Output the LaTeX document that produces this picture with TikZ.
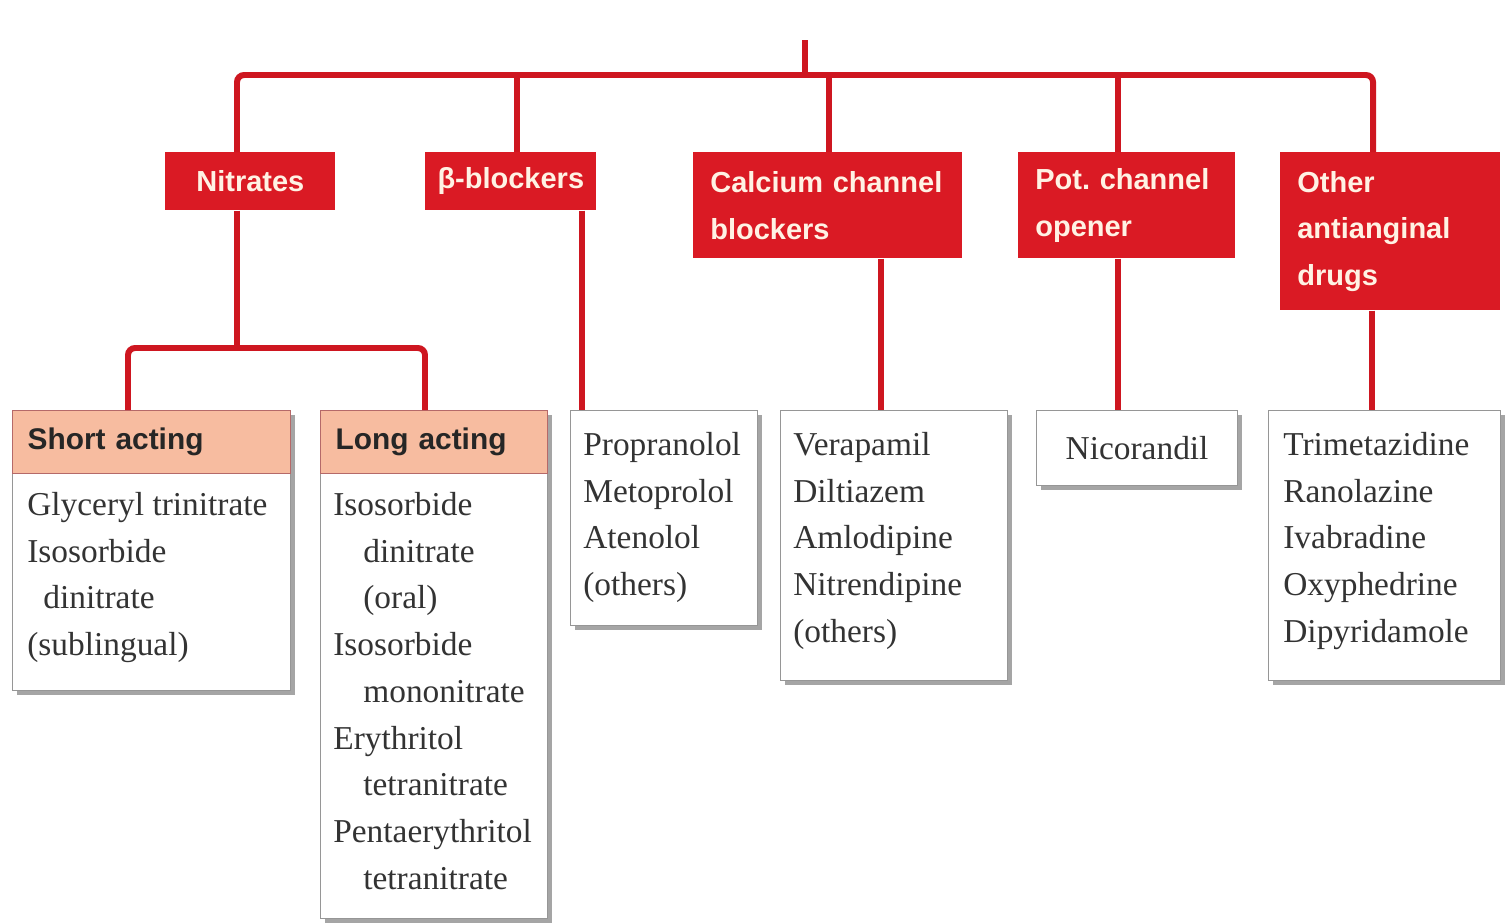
\documentclass[tikz,border=0pt]{standalone}
\usepackage{fontspec}
\setmainfont{Liberation Serif}
\newfontfamily\hdfont{Liberation Sans}
\usetikzlibrary{calc,shadows}
\definecolor{dred}{RGB}{218,26,36}
\definecolor{lred}{RGB}{206,22,32}
\definecolor{salmon}{RGB}{247,188,160}
\definecolor{cream}{RGB}{255,242,228}
\definecolor{boxline}{RGB}{150,150,150}
\newcommand\fl{\rule{0pt}{0.6cm}}
\newcommand\ind{\hspace*{0.6cm}}
\begin{document}
\begin{tikzpicture}[x=0.02cm,y=-0.02cm,
 catbox/.style={fill=dred, draw=none, text=cream, font=\hdfont\bfseries\fontsize{16.5}{26.6}\selectfont, inner xsep=0.34cm, inner ysep=0pt, anchor=north west},
 conn/.style={draw=lred, line width=3.4pt},
 listbox/.style={draw=boxline, fill=white, line width=0.7pt, anchor=north west, inner sep=0pt, drop shadow={shadow xshift=0.09cm, shadow yshift=-0.09cm, fill=black!50, opacity=0.7}},
 hdbox/.style={draw=boxline!70!red, fill=salmon, line width=0.7pt, anchor=north west, inner xsep=0.3cm, inner ysep=0pt, align=left, font=\hdfont\bfseries\fontsize{17}{20}\selectfont, text=black!85},
 listtext/.style={font=\fontsize{19}{26.6}\selectfont, text=black!80, align=left, anchor=north west, inner sep=0pt},
]
\useasboundingbox[fill=white] (0,0) rectangle (1506,923);

% category boxes
\node[catbox, text width=2.72cm, minimum height=1.16cm, align=center] (nit) at (165,152) {Nitrates};
\node[catbox, inner xsep=0.11cm, text width=3.2cm, minimum height=1.16cm, align=center] (beta) at (425,152) {β-blockers};
\node[catbox, text width=4.70cm, minimum height=2.12cm, align=left] (cal) at (693,152) {Calcium channel\\blockers};
\node[catbox, text width=3.66cm, minimum height=2.12cm, align=left] (pot) at (1018,152) {Pot.\ channel\\opener};
\node[catbox, text width=3.72cm, minimum height=3.16cm, align=left] (oth) at (1280,152) {Other\\antianginal\\drugs};

% list boxes
\node[listbox, minimum width=5.56cm, minimum height=5.6cm] (short) at (12,410) {};
\node[hdbox, text width=4.96cm, minimum height=1.26cm] (shorth) at (short.north west) {Short acting};
\node[listtext] (shortt) at (27,485) {\fl Glyceryl trinitrate\\Isosorbide\\\hspace*{0.32cm}dinitrate\\(sublingual)};

\node[listbox, minimum width=4.54cm, minimum height=10.16cm] (long) at (320,410) {};
\node[hdbox, text width=3.94cm, minimum height=1.26cm] (longh) at (long.north west) {Long acting};
\node[listtext] (longt) at (333,485) {\fl Isosorbide\\\ind dinitrate\\\ind (oral)\\Isosorbide\\\ind mononitrate\\Erythritol\\\ind tetranitrate\\Pentaerythritol\\\ind tetranitrate};

\node[listbox, minimum width=3.74cm, minimum height=4.3cm] (prop) at (570,410) {};
\node[listtext] (propt) at (583,425) {\fl Propranolol\\Metoprolol\\Atenolol\\(others)};

\node[listbox, minimum width=4.54cm, minimum height=5.4cm] (vera) at (780,410) {};
\node[listtext] (verat) at (793,425) {\fl Verapamil\\Diltiazem\\Amlodipine\\Nitrendipine\\(others)};

\node[listbox, minimum width=4.02cm, minimum height=1.5cm, font=\fontsize{19}{26.6}\selectfont, text=black!80] (nico) at (1036,410) {Nicorandil};

\node[listbox, minimum width=4.64cm, minimum height=5.4cm] (trim) at (1268,410) {};
\node[listtext] (trimt) at (1283,425) {\fl Trimetazidine\\Ranolazine\\Ivabradine\\Oxyphedrine\\Dipyridamole};

% connectors
\coordinate (top) at (805,40);
\coordinate (b1) at (237,75);
\coordinate (b2) at (517,75);
\coordinate (b3) at (829,75);
\coordinate (b4) at (1118,75);
\coordinate (b5) at (1373,75);
\draw[conn] (top) -- (top |- b1);
\draw[conn, rounded corners=4pt] (b1 |- nit.north) -- (b1) -- (b5) -- (b5 |- oth.north);
\draw[conn] (b2) -- (b2 |- beta.north);
\draw[conn] (b3) -- (b3 |- cal.north);
\draw[conn] (b4) -- (b4 |- pot.north);

\coordinate (n0) at (237,348);
\coordinate (nL) at (128,348);
\coordinate (nR) at (425,348);
\draw[conn] (n0 |- nit.south) -- (n0);
\draw[conn, rounded corners=4pt] (nL |- short.north) -- (nL) -- (nR) -- (nR |- long.north);

\coordinate (bx) at (582,300);
\coordinate (cx) at (881,300);
\coordinate (px) at (1118,300);
\coordinate (ox) at (1372,350);
\draw[conn] (bx |- beta.south) -- (bx |- prop.north);
\draw[conn] (cx |- cal.south) -- (cx |- vera.north);
\draw[conn] (px |- pot.south) -- (px |- nico.north);
\draw[conn] (ox |- oth.south) -- (ox |- trim.north);
\end{tikzpicture}
\end{document}
